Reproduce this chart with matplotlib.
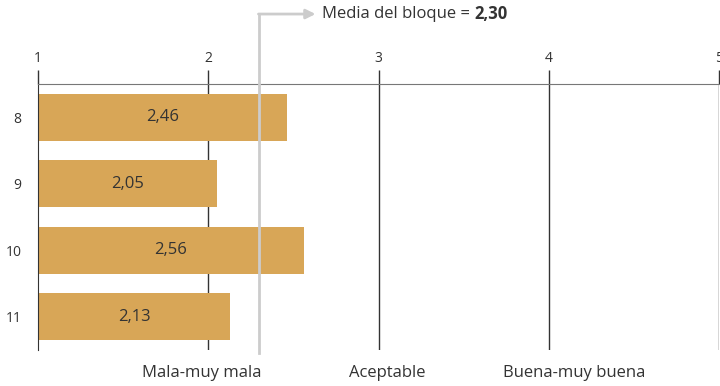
import matplotlib.pyplot as plt
import matplotlib.transforms as mtransforms

plt.rcParams['font.family'] = ['Open Sans', 'DejaVu Sans']

grupos = ['8', '9', '10', '11']
valores = [2.46, 2.05, 2.56, 2.13]
media = 2.30
xticks = [1, 2, 3, 4, 5]
categorias = ['Mala-muy mala', 'Aceptable', 'Buena-muy buena']
pos_categorias = [1.96, 3.05, 4.15]

fig = plt.figure(figsize=(7.2, 3.86), dpi=100)
ax = fig.add_axes([38/720, 1-350/386, 681/720, 266/386])

pos = list(range(len(grupos)))
ax.barh(pos, [v - 1 for v in valores], left=1, height=0.7, color='#D8A657', zorder=2)
for p, v in zip(pos, valores):
    ax.text(1 + (v - 1)/2, p, f'{v:.2f}'.replace('.', ','), ha='center', va='center',
            fontsize=12, color='#333333', zorder=3)

ax.set_xlim(1, 5)
ax.set_ylim(3.5, -0.5)
ax.set_yticks(pos)
ax.set_yticklabels(grupos, fontsize=10, color='#333333')
ax.tick_params(axis='y', length=0, pad=12)
ax.xaxis.tick_top()
ax.set_xticks(xticks)
ax.set_xticklabels([str(x) for x in xticks], fontsize=10, color='#333333')
ax.tick_params(axis='x', length=10, width=1, color='#333333', pad=3)

for x in xticks[1:]:
    ax.axvline(x, color='#333333', lw=1, zorder=1)
for s in ['right', 'bottom']:
    ax.spines[s].set_visible(False)
ax.spines['top'].set_color('#777777')
ax.spines['left'].set_color('#333333')

trans = mtransforms.blended_transform_factory(ax.transData, ax.transAxes)
ax.plot([media, media], [-0.01, 1.263], color='#cccccc', lw=2, transform=trans,
        clip_on=False, zorder=4)
ax.annotate('', xy=(2.63, 1.263), xytext=(media - 0.005, 1.263), xycoords=trans, textcoords=trans,
            arrowprops=dict(arrowstyle='-|>', color='#cccccc', lw=2, mutation_scale=14,
                            shrinkA=0, shrinkB=0))
ax.text(2.67, 1.263, 'Media del bloque = ', transform=trans, ha='left', va='center',
        fontsize=12, color='#333333')
ax.annotate(f'{media:.2f}'.replace('.', ','), xy=(1, 0.5), xycoords=ax.texts[-1],
            ha='left', va='center', fontsize=12, fontweight='bold', color='#333333')

for c, x in zip(categorias, pos_categorias):
    ax.text(x, -0.085, c, transform=trans, ha='center', va='center',
            fontsize=12, color='#333333')

fig.savefig('out.png', dpi=100)
